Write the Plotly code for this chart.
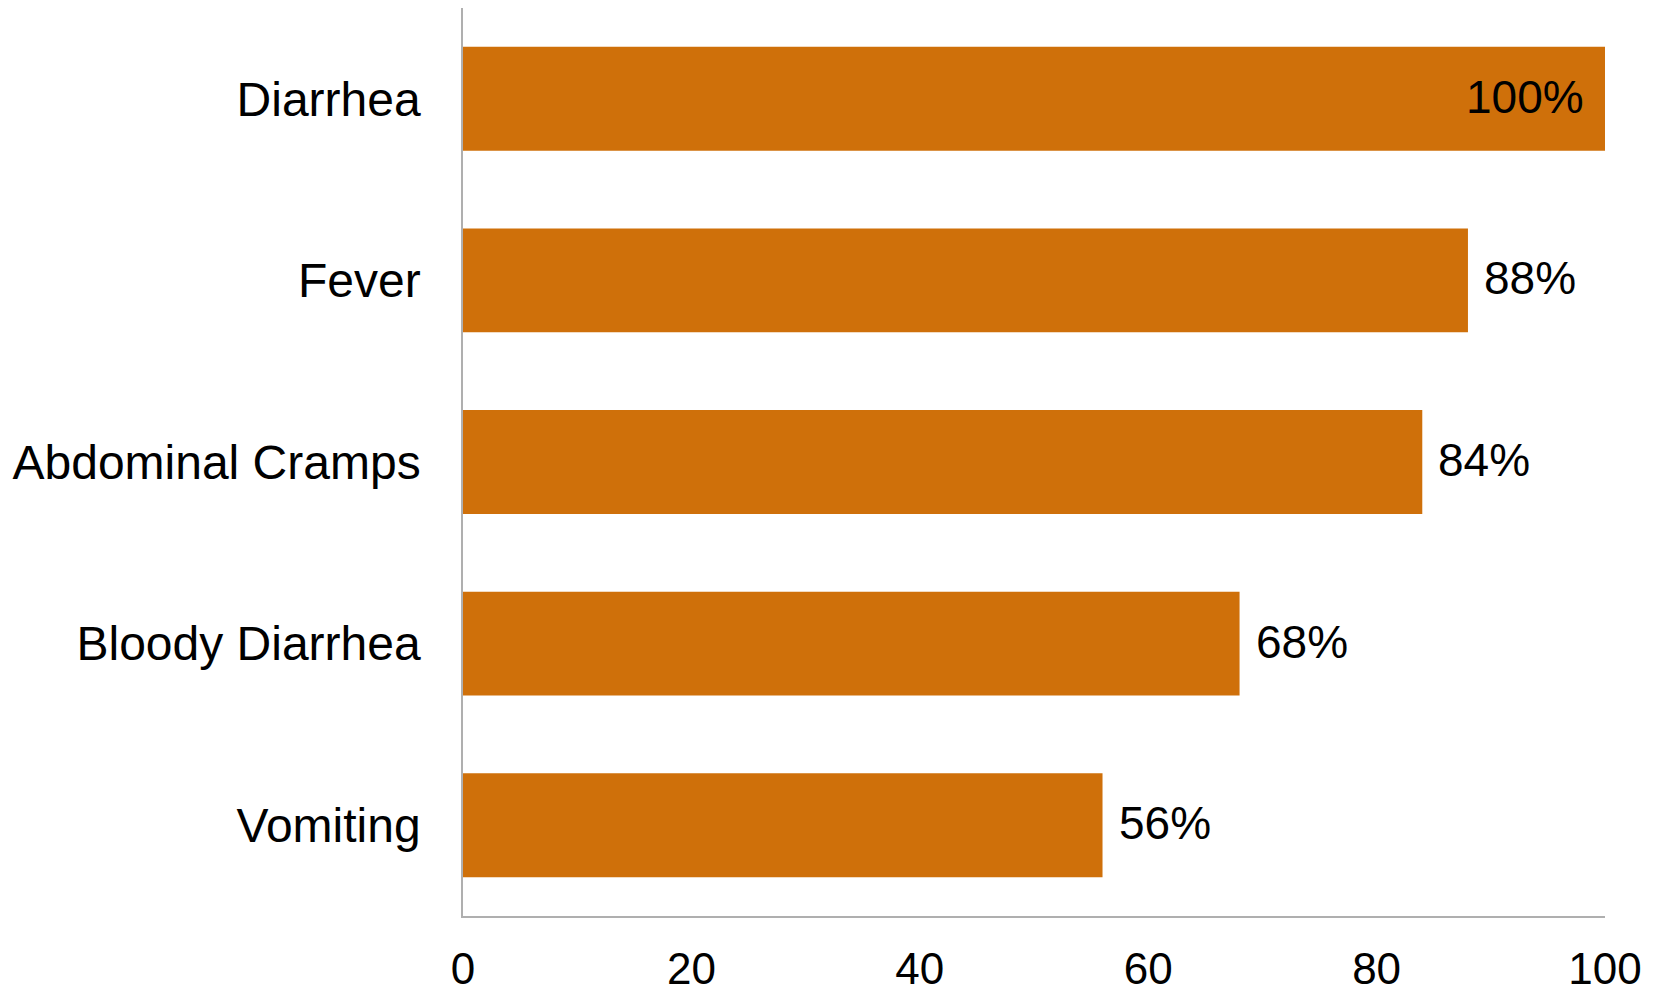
import plotly.graph_objects as go

symptoms = ["Diarrhea", "Fever", "Abdominal Cramps", "Bloody Diarrhea", "Vomiting"]
percent = [100, 88, 84, 68, 56]
x_ticks = [0, 20, 40, 60, 80, 100]

BAR_COLOR = "#CF700A"
AXIS_COLOR = "#AFAFAF"
FONT = "Liberation Sans, Arial, sans-serif"
X_MAX = 100

fig = go.Figure(
    go.Bar(
        x=percent,
        y=symptoms,
        orientation="h",
        marker=dict(color=BAR_COLOR, line=dict(width=0)),
        hoverinfo="skip",
    )
)

# value labels: outside the bar end, or inside when the bar fills the axis
for name, v in zip(symptoms, percent):
    inside = v >= X_MAX
    fig.add_annotation(
        x=v,
        y=name,
        xref="x",
        yref="y",
        text=f"{v}%",
        showarrow=False,
        xanchor="right" if inside else "left",
        xshift=-19 if inside else 14,
        yshift=2,
        font=dict(family=FONT, size=46, color="#000000"),
    )

fig.update_layout(
    width=1663,
    height=995,
    margin=dict(l=463, r=57.5, t=7.5, b=78.5),
    paper_bgcolor="white",
    plot_bgcolor="white",
    bargap=0.428,
    showlegend=False,
    font=dict(family=FONT, color="#000000"),
)

fig.update_xaxes(
    range=[0, X_MAX],
    tickvals=x_ticks,
    showgrid=False,
    zeroline=False,
    showline=True,
    linecolor=AXIS_COLOR,
    linewidth=1.5,
    ticks="",
    automargin=False,
    ticklabelstandoff=13,
    tickfont=dict(family=FONT, size=44, color="#000000"),
)

fig.update_yaxes(
    categoryorder="array",
    categoryarray=symptoms,
    autorange="reversed",
    showgrid=False,
    zeroline=False,
    showline=True,
    linecolor=AXIS_COLOR,
    linewidth=1.5,
    ticks="",
    automargin=False,
    ticklabelstandoff=31,
    tickfont=dict(family=FONT, size=48, color="#000000"),
)

fig.write_html("out.html")
